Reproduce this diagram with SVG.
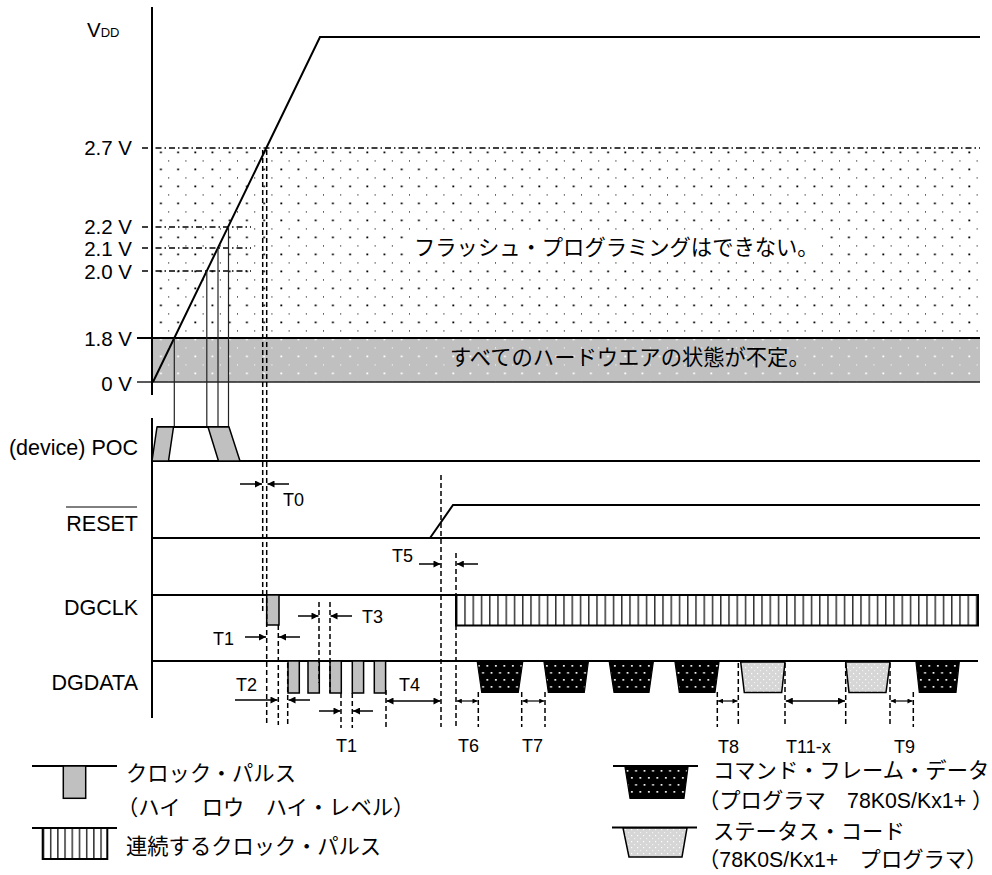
<svg xmlns="http://www.w3.org/2000/svg" width="992" height="875" viewBox="0 0 992 875">
<defs>
<style>
.t{font-family:"Liberation Sans",Arial,sans-serif;font-size:20.5px;fill:#000}
.tl{font-family:"Liberation Sans",Arial,sans-serif;font-size:21.5px;fill:#000}
.ts{font-family:"Liberation Sans",Arial,sans-serif;font-size:18px;fill:#000}
.j{font-family:"Liberation Sans","Noto Sans CJK JP","Noto Sans CJK SC",sans-serif;font-size:21.3px;fill:#000}
.ln{stroke:#000;stroke-width:2;fill:none}
.thin{stroke:#222;stroke-width:1.2;fill:none}
.dash{stroke:#000;stroke-width:1.5;stroke-dasharray:5 3;fill:none}
.dd{stroke:#000;stroke-width:1.4;stroke-dasharray:6 3 1.5 3;fill:none}
.ar{stroke:#000;stroke-width:1.5;fill:none;marker-end:url(#ah)}
.ar2{stroke:#000;stroke-width:1.5;fill:none;marker-end:url(#ah);marker-start:url(#ah)}
.ars{stroke:#000;stroke-width:1.2;fill:none;marker-end:url(#as);marker-start:url(#as)}
.gp{fill:#c0c0c0;stroke:#000;stroke-width:1.5}
.cmd{fill:url(#pc);stroke:#000;stroke-width:1.2}
.sts{fill:url(#ps);stroke:#000;stroke-width:1.5}
</style>
<marker id="ah" viewBox="0 0 10 10" refX="10" refY="5" markerWidth="11" markerHeight="7" markerUnits="userSpaceOnUse" orient="auto-start-reverse"><path d="M0,0L10,5L0,10z" fill="#000"/></marker>
<marker id="as" viewBox="0 0 10 10" refX="10" refY="5" markerWidth="7" markerHeight="5" markerUnits="userSpaceOnUse" orient="auto-start-reverse"><path d="M0,0L10,5L0,10z" fill="#000"/></marker>
<pattern id="pd" width="17.2" height="17" patternUnits="userSpaceOnUse" x="152" y="148">
<rect width="17.2" height="17" fill="#fff"/>
<rect x="8" y="3.5" width="1.8" height="1.8" fill="#000"/>
<rect x="16.6" y="12" width="1.8" height="1.8" fill="#000"/>
</pattern>
<pattern id="pg" width="17.2" height="17" patternUnits="userSpaceOnUse" x="152" y="148">
<rect width="17.2" height="17" fill="#c0c0c0"/>
<rect x="8" y="3.5" width="1.8" height="1.8" fill="#fff"/>
<rect x="16.6" y="12" width="1.8" height="1.8" fill="#fff"/>
</pattern>
<pattern id="pc" width="8.5" height="14" patternUnits="userSpaceOnUse" x="0" y="663">
<rect width="8.5" height="14" fill="#000"/>
<rect x="2" y="2" width="1.7" height="1.7" fill="#fff"/>
<rect x="6.2" y="9" width="1.7" height="1.7" fill="#fff"/>
</pattern>
<pattern id="ps" width="6" height="6" patternUnits="userSpaceOnUse">
<rect width="6" height="6" fill="#d6d6d6"/>
<rect x="1" y="1" width="1.2" height="1.2" fill="#fff"/>
<rect x="4" y="4" width="1.2" height="1.2" fill="#f2f2f2"/>
</pattern>
<pattern id="pk" width="8.25" height="40" patternUnits="userSpaceOnUse" x="456" y="0">
<rect width="8.25" height="40" fill="#fff"/>
<rect x="0" y="0" width="1.5" height="40" fill="#333"/>
</pattern>
<pattern id="pk2" width="7.2" height="40" patternUnits="userSpaceOnUse" x="42.7" y="0">
<rect width="7.2" height="40" fill="#fff"/>
<rect x="0" y="0" width="1.5" height="40" fill="#333"/>
</pattern>
</defs>

<g id="vdd-chart">
<rect x="152" y="148" width="828" height="190" fill="url(#pd)"/>
<rect x="152" y="338" width="828" height="44" fill="url(#pg)"/>
<rect x="407" y="233" width="415" height="29" fill="#fff"/>
<line class="dd" x1="142" y1="148" x2="980" y2="148"/>
<line class="dd" x1="142" y1="227" x2="251" y2="227"/>
<line class="dd" x1="142" y1="248" x2="251" y2="248"/>
<line class="dd" x1="142" y1="271" x2="251" y2="271"/>
<line class="ln" x1="137" y1="338" x2="980" y2="338"/>
<line stroke="#222" stroke-width="1.5" x1="137" y1="382" x2="980" y2="382"/>
<line class="ln" x1="152" y1="7" x2="152" y2="395"/>
<line class="ln" x1="152" y1="418" x2="152" y2="718"/>
<polyline class="ln" points="153,382 320,37 980,37"/>
<line class="thin" x1="174.3" y1="338" x2="174.3" y2="427"/>
<line class="thin" x1="206.8" y1="271" x2="206.8" y2="427"/>
<line class="thin" x1="218" y1="248" x2="218" y2="427"/>
<line class="thin" x1="228.5" y1="227" x2="228.5" y2="427"/>
<text class="j" x="414" y="255">フラッシュ・プログラミングはできない。</text>
<text class="j" x="450" y="365">すべてのハードウエアの状態が不定。</text>
</g>

<g id="labels">
<text class="t" x="87" y="37">V<tspan font-size="13">DD</tspan></text>
<text class="t" x="132" y="155" text-anchor="end">2.7 V</text>
<text class="t" x="132" y="234" text-anchor="end">2.2 V</text>
<text class="t" x="132" y="256" text-anchor="end">2.1 V</text>
<text class="t" x="132" y="279" text-anchor="end">2.0 V</text>
<text class="t" x="132" y="346" text-anchor="end">1.8 V</text>
<text class="t" x="132" y="391" text-anchor="end">0 V</text>
<text class="tl" x="138" y="455" text-anchor="end">(device) POC</text>
<line stroke="#000" stroke-width="1" x1="66" y1="507" x2="137" y2="507"/>
<text class="tl" x="138" y="531" text-anchor="end">RESET</text>
<text class="tl" x="138" y="615" text-anchor="end">DGCLK</text>
<text class="tl" x="138" y="690" text-anchor="end">DGDATA</text>
</g>

<g id="poc">
<line class="ln" x1="157" y1="427" x2="229" y2="427"/>
<line class="ln" x1="152" y1="461" x2="980" y2="461"/>
<polygon class="gp" points="152,461 157,427 173.5,427 168.5,461"/>
<polygon class="gp" points="208,427 229,427 240,461 218.5,461"/>
</g>

<g id="reset">
<line class="ln" x1="152" y1="538" x2="980" y2="538"/>
<polyline class="ln" points="430,538 453,505 980,505"/>
</g>

<g id="dgclk">
<line class="ln" x1="152" y1="595" x2="456" y2="595"/>
<rect class="gp" x="266.7" y="595" width="12.3" height="30"/>
<rect x="456" y="595" width="522" height="30.5" fill="url(#pk)" stroke="#000" stroke-width="2"/>
</g>

<g id="dgdata">
<line class="ln" x1="152" y1="661" x2="978" y2="661"/>
<rect class="gp" x="288" y="661" width="11.3" height="32"/>
<rect class="gp" x="308" y="661" width="11.3" height="32"/>
<rect class="gp" x="330" y="661" width="11.3" height="32"/>
<rect class="gp" x="352.3" y="661" width="11.3" height="32"/>
<rect class="gp" x="374.3" y="661" width="11.3" height="32"/>
<polygon class="cmd" points="477.3,662 522.7,662 518.3,692.5 481.7,692.5"/>
<polygon class="cmd" points="544,662 588.3,662 584.3,692.5 548.3,692.5"/>
<polygon class="cmd" points="609.3,662 653.3,662 649,692.5 614,692.5"/>
<polygon class="cmd" points="675,662 719,662 715,692.5 679.3,692.5"/>
<polygon class="sts" points="740.7,662 785,662 781.7,692.5 744.3,692.5"/>
<polygon class="sts" points="845.7,662 890,662 886,692.5 849,692.5"/>
<polygon class="cmd" points="916,662 959.3,662 956,692.5 919.3,692.5"/>
</g>

<g id="connectors">
<line class="dash" x1="262.7" y1="150" x2="262.7" y2="613"/>
<line class="dash" x1="266.7" y1="150" x2="266.7" y2="725"/>
<line class="dash" x1="278.3" y1="625" x2="278.3" y2="725"/>
<line class="dash" x1="287.7" y1="663" x2="287.7" y2="725"/>
<line class="dash" x1="319" y1="602" x2="319" y2="683"/>
<line class="dash" x1="330" y1="602" x2="330" y2="693"/>
<line class="dash" x1="341" y1="693" x2="341" y2="728"/>
<line class="dash" x1="352.3" y1="693" x2="352.3" y2="728"/>
<line class="dash" x1="386" y1="690" x2="386" y2="727"/>
<line class="dash" x1="441" y1="475" x2="441" y2="727"/>
<line class="dash" x1="456" y1="553" x2="456" y2="727"/>
<line class="dash" x1="478.3" y1="692" x2="478.3" y2="727"/>
<line class="dash" x1="521.7" y1="692" x2="521.7" y2="727"/>
<line class="dash" x1="545" y1="692" x2="545" y2="727"/>
<line class="dash" x1="717.3" y1="692" x2="717.3" y2="727"/>
<line class="dash" x1="738.3" y1="663" x2="738.3" y2="727"/>
<line class="dash" x1="785" y1="663" x2="785" y2="727"/>
<line class="dash" x1="845.7" y1="663" x2="845.7" y2="727"/>
<line class="dash" x1="890" y1="663" x2="890" y2="727"/>
<line class="dash" x1="913.3" y1="692" x2="913.3" y2="727"/>

<line class="ar" x1="240" y1="484" x2="262" y2="484"/>
<line class="ar" x1="289" y1="484" x2="267.5" y2="484"/>
<line class="ar" x1="419" y1="564" x2="440.5" y2="564"/>
<line class="ar" x1="478" y1="564" x2="456.8" y2="564"/>
<line class="ar" x1="245" y1="637" x2="266" y2="637"/>
<line class="ar" x1="300" y1="637" x2="279" y2="637"/>
<line class="ar" x1="298" y1="616" x2="318.5" y2="616"/>
<line class="ar" x1="352" y1="616" x2="330.5" y2="616"/>
<line class="ar" x1="235" y1="700" x2="277.5" y2="700"/>
<line class="ar" x1="310" y1="700" x2="288.5" y2="700"/>
<line class="ar" x1="319" y1="711" x2="340.5" y2="711"/>
<line class="ar" x1="373" y1="711" x2="353" y2="711"/>
<line class="ar2" x1="386.5" y1="701" x2="440.5" y2="701"/>
<line class="ars" x1="456.8" y1="701" x2="477.5" y2="701"/>
<line class="ars" x1="522.5" y1="701" x2="544.2" y2="701"/>
<line class="ars" x1="718" y1="701" x2="737.5" y2="701"/>
<line class="ar2" x1="785.8" y1="701" x2="845" y2="701"/>
<line class="ars" x1="890.8" y1="701" x2="912.5" y2="701"/>

<text class="ts" x="283" y="506">T0</text>
<text class="ts" x="392" y="562">T5</text>
<text class="ts" x="213" y="645">T1</text>
<text class="ts" x="362" y="623">T3</text>
<text class="ts" x="236" y="691">T2</text>
<text class="ts" x="399" y="691">T4</text>
<text class="ts" x="336" y="752">T1</text>
<text class="ts" x="458" y="752">T6</text>
<text class="ts" x="522" y="752">T7</text>
<text class="ts" x="718" y="753">T8</text>
<text class="ts" x="786" y="753">T11-x</text>
<text class="ts" x="894" y="753">T9</text>
</g>

<g id="legend-clock">
<line class="ln" x1="32" y1="766" x2="117" y2="766"/>
<rect class="gp" x="63.3" y="766" width="22.4" height="32.3"/>
<text class="j" x="126" y="781">クロック・パルス</text>
<text class="j" x="117" y="815">（ハイ　ロウ　ハイ・レベル）</text>
</g>
<g id="legend-continuous">
<line class="ln" x1="32" y1="828" x2="117" y2="828"/>
<rect x="42.7" y="828" width="64.6" height="31" fill="url(#pk2)" stroke="#000" stroke-width="2"/>
<text class="j" x="126" y="854">連続するクロック・パルス</text>
</g>
<g id="legend-command">
<line class="ln" x1="613" y1="766" x2="698" y2="766"/>
<polygon class="cmd" points="625,767 688,767 684,798.3 630,798.3"/>
<text class="j" x="713" y="778">コマンド・フレーム・データ</text>
<text class="j" x="698" y="808">（プログラマ　78K0S/Kx1+ ）</text>
</g>
<g id="legend-status">
<line class="ln" x1="612" y1="827.5" x2="697" y2="827.5"/>
<polygon class="sts" points="623,828 687,828 682,857 629,857"/>
<text class="j" x="713" y="839">ステータス・コード</text>
<text class="j" x="698" y="867">（78K0S/Kx1+　プログラマ）</text>
</g>
</svg>
